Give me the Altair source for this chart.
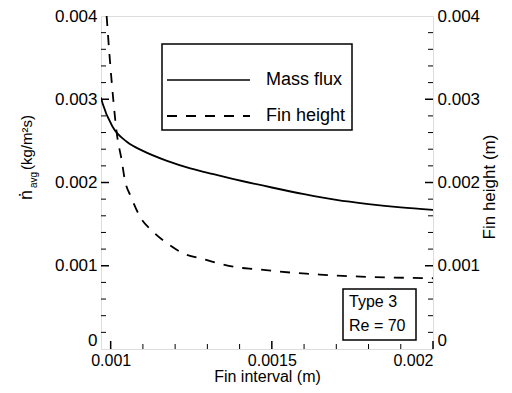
import altair as alt
import pandas as pd

# ---- data ----
interval_mf = [0.00097, 0.000975, 0.001006, 0.00105, 0.0011, 0.001175, 0.001247,
               0.001319, 0.001372, 0.0015, 0.0016, 0.0017, 0.0018, 0.0019, 0.002]
mass_flux = [0.00302, 0.00295, 0.00267, 0.00249, 0.00238, 0.00226, 0.00217,
             0.0021, 0.00205, 0.00194, 0.00186, 0.00179, 0.00174, 0.0017, 0.00167]

interval_fh = [0.0009875, 0.000997, 0.001008, 0.001019, 0.001034, 0.001044, 0.001063,
               0.001091, 0.001131, 0.001175, 0.001225, 0.001288, 0.001334, 0.001394,
               0.00145, 0.001513, 0.001569, 0.001628, 0.001684, 0.001741, 0.001803,
               0.001919, 0.002]
fin_height = [0.0040, 0.0035, 0.0030, 0.00259, 0.00227, 0.00203, 0.00183,
              0.00159, 0.00141, 0.00127, 0.00115, 0.00108, 0.00103, 0.00098,
              0.00096, 0.000935, 0.000915, 0.0009, 0.000885, 0.000875, 0.000865,
              0.000855, 0.00085]

x_labels = [0.001, 0.0015, 0.002]
x_major = [0.001, 0.0015, 0.002]
x_minor = [0.0011, 0.0012, 0.0013, 0.0014, 0.0016, 0.0017, 0.0018, 0.0019]
y_labels = [0, 0.001, 0.002, 0.003, 0.004]
y_major = [0.001, 0.002, 0.003]
y_minor = [0.0002, 0.0004, 0.0006, 0.0008, 0.0012, 0.0014, 0.0016, 0.0018,
           0.0022, 0.0024, 0.0026, 0.0028, 0.0032, 0.0034, 0.0036, 0.0038]

legend_labels = ["Mass flux", "Fin height"]
note_lines = ["Type 3", "Re = 70"]

FONT = "Liberation Sans"
W, H = 332, 333
XDOM = [0.00097, 0.002]
YDOM = [0, 0.004]

xs = alt.Scale(domain=XDOM, nice=False, zero=False)
ys = alt.Scale(domain=YDOM, nice=False, zero=True)

df_mf = pd.DataFrame({"x": interval_mf, "y": mass_flux})
df_fh = pd.DataFrame({"x": interval_fh, "y": fin_height})
df_xmaj = pd.DataFrame({"x": x_major})
df_xmin = pd.DataFrame({"x": x_minor})
df_ymaj = pd.DataFrame({"y": y_major})
df_ymin = pd.DataFrame({"y": y_minor})
one = pd.DataFrame({"a": [0]})

x_axis = alt.Axis(values=x_labels, format="~g", ticks=False, domain=False, grid=False,
                  labelFont=FONT, labelFontSize=16, labelColor="black", labelPadding=3,
                  title="Fin interval (m)", titleFont=FONT, titleFontSize=16,
                  titleFontWeight="normal", titleColor="black", titlePadding=0)

zero_base = {"expr": "datum.value == 0 ? 'bottom' : 'middle'"}
left_axis = alt.Axis(values=y_labels, format="~g", ticks=False, domain=False, grid=False,
                     labelFont=FONT, labelFontSize=17, labelColor="black", labelPadding=4,
                     labelBaseline=zero_base, title=None, orient="left")
right_axis = alt.Axis(values=y_labels, format="~g", ticks=False, domain=False, grid=False,
                      labelFont=FONT, labelFontSize=17, labelColor="black", labelPadding=4,
                      labelBaseline=zero_base, title=None, orient="right")

mf_line = alt.Chart(df_mf).mark_line(color="black", strokeWidth=1.8, clip=True,
                                     interpolate="monotone").encode(
    x=alt.X("x:Q", scale=xs, axis=x_axis),
    y=alt.Y("y:Q", scale=ys, axis=left_axis),
)

xt_major = alt.Chart(df_xmaj).mark_rule(color="black", strokeWidth=1.5).encode(
    x=alt.X("x:Q", scale=xs), y=alt.value(H), y2=alt.value(H - 8))
xt_minor = alt.Chart(df_xmin).mark_rule(color="black", strokeWidth=1).encode(
    x=alt.X("x:Q", scale=xs), y=alt.value(H), y2=alt.value(H - 5))
yl_major = alt.Chart(df_ymaj).mark_rule(color="black", strokeWidth=1.5).encode(
    y=alt.Y("y:Q", scale=ys), x=alt.value(0), x2=alt.value(8))
yl_minor = alt.Chart(df_ymin).mark_rule(color="black", strokeWidth=1).encode(
    y=alt.Y("y:Q", scale=ys), x=alt.value(0), x2=alt.value(5))

left_group = alt.layer(mf_line, xt_major, xt_minor, yl_major, yl_minor)

fh_line = alt.Chart(df_fh).mark_line(color="black", strokeWidth=1.8, strokeDash=[10, 9],
                                     clip=True, interpolate="monotone").encode(
    x=alt.X("x:Q", scale=xs),
    y=alt.Y("y:Q", scale=ys, axis=right_axis),
)
yr_major = alt.Chart(df_ymaj).mark_rule(color="black", strokeWidth=1.5).encode(
    y=alt.Y("y:Q", scale=ys), x=alt.value(W), x2=alt.value(W - 8))
yr_minor = alt.Chart(df_ymin).mark_rule(color="black", strokeWidth=1).encode(
    y=alt.Y("y:Q", scale=ys), x=alt.value(W), x2=alt.value(W - 5))

right_group = alt.layer(fh_line, yr_major, yr_minor)

# ---- annotations: legend box, note box, y titles ----
leg_box = alt.Chart(one).mark_rect(fill="white", stroke="black", strokeWidth=1.5).encode(
    x=alt.value(61), x2=alt.value(251), y=alt.value(28), y2=alt.value(114))
leg_solid = alt.Chart(one).mark_rule(color="black", strokeWidth=1.5).encode(
    x=alt.value(66), x2=alt.value(149), y=alt.value(64))
leg_dash = alt.Chart(one).mark_rule(color="black", strokeWidth=1.8, strokeDash=[10, 9]).encode(
    x=alt.value(66), x2=alt.value(149), y=alt.value(100))
leg_t1 = alt.Chart(one).mark_text(font=FONT, fontSize=18, align="left", baseline="middle",
                                  color="black", text=legend_labels[0]).encode(
    x=alt.value(165), y=alt.value(64))
leg_t2 = alt.Chart(one).mark_text(font=FONT, fontSize=18, align="left", baseline="middle",
                                  color="black", text=legend_labels[1]).encode(
    x=alt.value(165), y=alt.value(100))

note_box = alt.Chart(one).mark_rect(fill="white", stroke="black", strokeWidth=1.5).encode(
    x=alt.value(242), x2=alt.value(315), y=alt.value(273), y2=alt.value(324))
note_t1 = alt.Chart(one).mark_text(font=FONT, fontSize=16, align="left", baseline="middle",
                                   color="black", text=note_lines[0]).encode(
    x=alt.value(248), y=alt.value(286))
note_t2 = alt.Chart(one).mark_text(font=FONT, fontSize=16, align="left", baseline="middle",
                                   color="black", text=note_lines[1]).encode(
    x=alt.value(248), y=alt.value(310))

yt_n = alt.Chart(one).mark_text(font=FONT, fontSize=18, angle=270, align="left",
                                baseline="alphabetic", color="black", text="ṅ").encode(
    x=alt.value(-69), y=alt.value(184))
yt_avg = alt.Chart(one).mark_text(font=FONT, fontSize=10, angle=270, align="left",
                                  baseline="alphabetic", color="black", text="avg").encode(
    x=alt.value(-64), y=alt.value(172))
yt_unit = alt.Chart(one).mark_text(font=FONT, fontSize=15, angle=270, align="left",
                                   baseline="alphabetic", color="black", text="(kg/m²s)").encode(
    x=alt.value(-69), y=alt.value(154))
yr_title = alt.Chart(one).mark_text(font=FONT, fontSize=17, angle=270, align="center",
                                    baseline="middle", color="black", text="Fin height (m)").encode(
    x=alt.value(389), y=alt.value(171))

annot = alt.layer(leg_box, leg_solid, leg_dash, leg_t1, leg_t2,
                  note_box, note_t1, note_t2, yt_n, yt_avg, yt_unit, yr_title)

chart = alt.layer(left_group, right_group, annot).resolve_scale(
    y="independent"
).properties(
    width=W, height=H,
    autosize=alt.AutoSizeParams(type="none"),
    padding={"left": 93, "top": 8, "right": 71, "bottom": 36},
).configure_view(stroke="black", strokeWidth=2).configure(background="white")

chart.save("out.html", embed_options={"renderer": "svg", "actions": False})
